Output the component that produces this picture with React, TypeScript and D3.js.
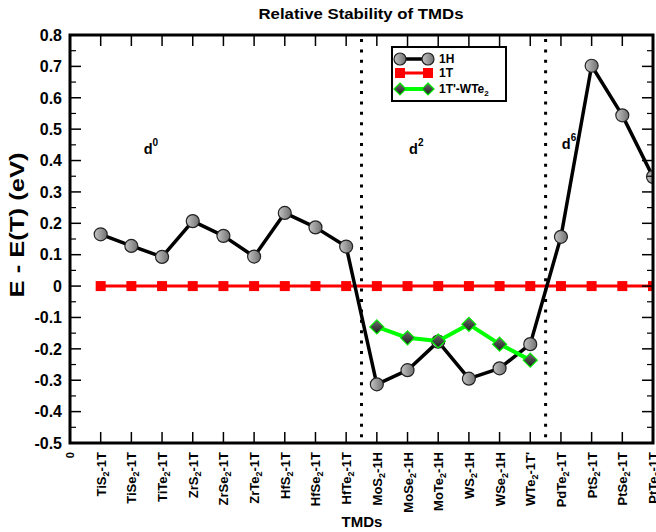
import React from "react";
import * as d3 from "d3";

// Compounds along the x axis (position 1..19)
const compounds = [
  "TiS2-1T", "TiSe2-1T", "TiTe2-1T", "ZrS2-1T", "ZrSe2-1T", "ZrTe2-1T",
  "HfS2-1T", "HfSe2-1T", "HfTe2-1T", "MoS2-1H", "MoSe2-1H", "MoTe2-1H",
  "WS2-1H", "WSe2-1H", "WTe2-1T'", "PdTe2-1T", "PtS2-1T", "PtSe2-1T", "PtTe2-1T",
];

// E - E(T) in eV for each phase
const energy1H = [
  0.165, 0.128, 0.093, 0.207, 0.160, 0.094, 0.233, 0.187, 0.126,
  -0.313, -0.268, -0.177, -0.295, -0.262, -0.185,
  0.157, 0.702, 0.544, 0.348,
];
const energy1T = [
  0, 0, 0, 0, 0, 0, 0, 0, 0, 0, 0, 0, 0, 0, 0, 0, 0, 0, 0,
];
// 1T'-WTe2 structure, computed for the Mo/W compounds only
const wte2Positions = [10, 11, 12, 13, 14, 15];
const energyWTe2 = [-0.130, -0.165, -0.175, -0.122, -0.185, -0.236];

const yTicks = [-0.5, -0.4, -0.3, -0.2, -0.1, 0, 0.1, 0.2, 0.3, 0.4, 0.5, 0.6, 0.7, 0.8];
const yTickLabels = ["-0.5", "-0.4", "-0.3", "-0.2", "-0.1", "0", "0.1", "0.2", "0.3", "0.4", "0.5", "0.6", "0.7", "0.8"];

// Region boundaries and d-electron annotations
const dividers = [9.5, 15.5];
const dLabels = [
  { x: 2.4, y: 0.42, sup: "0" },
  { x: 11.05, y: 0.42, sup: "2" },
  { x: 16.03, y: 0.437, sup: "6" },
];

const W = 656;
const H = 532;
const FONT = "'Liberation Sans', Arial, Helvetica, sans-serif";

const x = d3.scaleLinear().domain([0, 19]).range([70, 653]);
const y = d3.scaleLinear().domain([-0.5, 0.8]).range([443, 35]);

// Split "TiS2-1T" into ["TiS", "2", "-1T"] so the 2 can be a subscript
function splitFormula(s: string): [string, string, string] {
  const m = s.match(/^([A-Za-z]+)(\d)(.*)$/);
  if (!m) return [s, "", ""];
  return [m[1], m[2], m[3]];
}

function Circle({ cx, cy, r = 6.5 }: { cx: number; cy: number; r?: number }) {
  return <circle cx={cx} cy={cy} r={r} fill="url(#ballGrad)" stroke="#222" strokeWidth={1.2} />;
}

function Square({ cx, cy, s = 10 }: { cx: number; cy: number; s?: number }) {
  return <rect x={cx - s / 2} y={cy - s / 2} width={s} height={s} fill="#ff0000" />;
}

function Diamond({ cx, cy, r = 7 }: { cx: number; cy: number; r?: number }) {
  const p = `M${cx},${cy - r}L${cx + r},${cy}L${cx},${cy + r}L${cx - r},${cy}Z`;
  return <path d={p} fill="url(#diamGrad)" stroke="#00ee00" strokeWidth={1.2} />;
}

export default function App() {
  const xs = compounds.map((_, i) => i + 1);

  const line = d3
    .line<[number, number]>()
    .x((d) => x(d[0]))
    .y((d) => y(d[1]));

  const pts1H: [number, number][] = xs.map((p, i) => [p, energy1H[i]]);
  const pts1T: [number, number][] = xs.map((p, i) => [p, energy1T[i]]);
  const ptsW: [number, number][] = wte2Positions.map((p, i) => [p, energyWTe2[i]]);

  const minorY = d3.range(-0.45, 0.8, 0.1);

  const [x0, x1] = x.range();
  const [yb, yt] = y.range();

  return (
    <svg
      width={W}
      height={H}
      style={{ position: "absolute", left: 0, top: 0, background: "#fff" }}
      fontFamily={FONT}
    >
      <defs>
        <linearGradient id="ballGrad" x1="0" y1="0" x2="1" y2="0">
          <stop offset="0" stopColor="#c4c4c4" />
          <stop offset="0.5" stopColor="#9a9a9a" />
          <stop offset="1" stopColor="#707070" />
        </linearGradient>
        <linearGradient id="diamGrad" x1="0" y1="0" x2="0" y2="1">
          <stop offset="0" stopColor="#6e6e6e" />
          <stop offset="1" stopColor="#1c1c1c" />
        </linearGradient>
        <clipPath id="plotClip">
          <rect x={x0} y={yt} width={x1 - x0} height={yb - yt} />
        </clipPath>
      </defs>

      {/* title */}
      <text
        x={361}
        y={19}
        textAnchor="middle"
        fontWeight="bold"
        fontSize={14.5}
        textLength={205}
        lengthAdjust="spacingAndGlyphs"
      >
        Relative Stability of TMDs
      </text>

      {/* region dividers */}
      {dividers.map((d) => (
        <line
          key={d}
          x1={x(d)}
          x2={x(d)}
          y1={yt + 4}
          y2={yb - 2}
          stroke="#000"
          strokeWidth={3}
          strokeDasharray="3,7.4"
        />
      ))}

      {/* d-electron count labels */}
      {dLabels.map((d, i) => (
        <text key={i} x={x(d.x)} y={y(d.y)} fontWeight="bold" fontSize={14.5}>
          d
          <tspan dy={-8} fontSize={10}>
            {d.sup}
          </tspan>
        </text>
      ))}

      <g clipPath="url(#plotClip)">
        {/* 1T reference */}
        <path d={line(pts1T) || ""} fill="none" stroke="#ff0000" strokeWidth={3} />
        {pts1T.map((p, i) => (
          <Square key={i} cx={x(p[0])} cy={y(p[1])} />
        ))}

        {/* 1H */}
        <path d={line(pts1H) || ""} fill="none" stroke="#000" strokeWidth={3.5} strokeLinejoin="round" />
        {pts1H.map((p, i) => (
          <Circle key={i} cx={x(p[0])} cy={y(p[1])} />
        ))}

        {/* 1T'-WTe2 */}
        <path d={line(ptsW) || ""} fill="none" stroke="#00ff00" strokeWidth={4} strokeLinejoin="round" />
        {ptsW.map((p, i) => (
          <Diamond key={i} cx={x(p[0])} cy={y(p[1])} />
        ))}
      </g>

      {/* frame */}
      <rect x={x0} y={yt} width={x1 - x0} height={yb - yt} fill="none" stroke="#000" strokeWidth={3} />

      {/* y ticks, left and right */}
      {yTicks.map((t) => (
        <g key={t}>
          <line x1={x0} x2={x0 + 11} y1={y(t)} y2={y(t)} stroke="#000" strokeWidth={1.5} />
          <line x1={x1} x2={x1 - 11} y1={y(t)} y2={y(t)} stroke="#000" strokeWidth={1.5} />
        </g>
      ))}
      {minorY.map((t) => (
        <g key={"m" + t}>
          <line x1={x0} x2={x0 + 6} y1={y(t)} y2={y(t)} stroke="#000" strokeWidth={1.2} />
          <line x1={x1} x2={x1 - 6} y1={y(t)} y2={y(t)} stroke="#000" strokeWidth={1.2} />
        </g>
      ))}
      {yTicks.map((t, i) => (
        <text
          key={"l" + t}
          x={62}
          y={y(t)}
          dy="0.36em"
          textAnchor="end"
          fontWeight="bold"
          fontSize={16}
        >
          {yTickLabels[i]}
        </text>
      ))}

      {/* x ticks, bottom and top */}
      {xs.map((p) => (
        <g key={p}>
          <line x1={x(p)} x2={x(p)} y1={yb} y2={yb - 11} stroke="#000" strokeWidth={1.5} />
          <line x1={x(p)} x2={x(p)} y1={yt} y2={yt + 11} stroke="#000" strokeWidth={1.5} />
        </g>
      ))}

      {/* x tick labels, rotated */}
      <text
        transform={`translate(${x(0) + 4},${yb + 9}) rotate(-90)`}
        textAnchor="end"
        fontWeight="bold"
        fontSize={11}
      >
        0
      </text>
      {compounds.map((c, i) => {
        const [a, sub, rest] = splitFormula(c);
        return (
          <text
            key={c}
            transform={`translate(${x(i + 1) + 5},${yb + 9}) rotate(-90)`}
            textAnchor="end"
            fontWeight="bold"
            fontSize={13}
          >
            {a}
            <tspan fontSize={9} dy={3}>
              {sub}
            </tspan>
            <tspan dy={-3}>{rest}</tspan>
          </text>
        );
      })}

      {/* axis titles */}
      <text x={362} y={527} textAnchor="middle" fontWeight="bold" fontSize={15}>
        TMDs
      </text>
      <text
        transform="translate(24,225) rotate(-90)"
        textAnchor="middle"
        fontWeight="bold"
        fontSize={20}
        textLength={145}
        lengthAdjust="spacingAndGlyphs"
      >
        E - E(T) (eV)
      </text>

      {/* legend */}
      <g>
        <rect x={392} y={47} width={114} height={54} fill="#fff" stroke="#000" strokeWidth={2} />
        <line x1={400} x2={428} y1={59} y2={59} stroke="#000" strokeWidth={3.5} />
        <Circle cx={400} cy={59} r={6} />
        <Circle cx={428} cy={59} r={6} />
        <text x={439} y={59} dy="0.36em" fontWeight="bold" fontSize={12}>
          1H
        </text>

        <line x1={400} x2={428} y1={73} y2={73} stroke="#ff0000" strokeWidth={3} />
        <Square cx={400} cy={73} s={10} />
        <Square cx={428} cy={73} s={10} />
        <text x={439} y={73} dy="0.36em" fontWeight="bold" fontSize={12}>
          1T
        </text>

        <line x1={400} x2={428} y1={89} y2={89} stroke="#00ff00" strokeWidth={4} />
        <Diamond cx={400} cy={89} r={6} />
        <Diamond cx={428} cy={89} r={6} />
        <text x={439} y={89} dy="0.36em" fontWeight="bold" fontSize={12}>
          1T'-WTe
          <tspan fontSize={8} dy={3}>
            2
          </tspan>
        </text>
      </g>
    </svg>
  );
}
